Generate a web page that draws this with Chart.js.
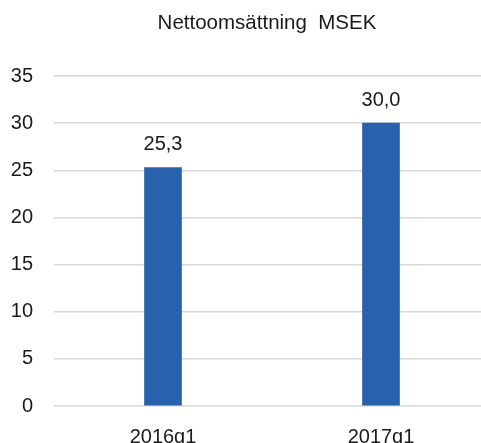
<!DOCTYPE html>
<html>
<head>
<meta charset="utf-8">
<script src="https://cdn.jsdelivr.net/npm/chart.js@4"></script>
<style>
  html, body { margin: 0; padding: 0; background: #fff; overflow: hidden; }
  #wrap { width: 490px; height: 452px; }
</style>
</head>
<body>
<div id="wrap"><canvas id="salesChart" width="490" height="452"></canvas></div>
<script>
// Chart data
const categories = ["2016q1", "2017q1"];
const netSales = [25.3, 30.0];
const yTicks = [0, 5, 10, 15, 20, 25, 30, 35];
const chartTitle = "Nettoomsättning  MSEK";

const fontFamily = "'Liberation Sans', Arial, Helvetica, sans-serif";
const textColor = "#1a1a1a";
const barColor = "#2862ad";

// Title centred over the plot, value labels above the bars
const labelPlugin = {
  id: "labels",
  afterDatasetsDraw(chart) {
    const ctx = chart.ctx;
    const area = chart.chartArea;
    ctx.save();
    ctx.fillStyle = textColor;
    ctx.font = "20.5px " + fontFamily;
    ctx.textAlign = "center";
    ctx.textBaseline = "middle";
    ctx.fillText(chartTitle, (area.left + area.right) / 2 - 5, 23);

    ctx.font = "20px " + fontFamily;
    ctx.textBaseline = "alphabetic";
    const meta = chart.getDatasetMeta(0);
    meta.data.forEach(function (bar, i) {
      const v = netSales[i].toFixed(1).replace(".", ",");
      ctx.fillText(v, bar.x, bar.y - 17);
    });
    ctx.restore();
  },
};

new Chart(document.getElementById("salesChart"), {
  type: "bar",
  data: {
    labels: categories,
    datasets: [
      {
        data: netSales,
        backgroundColor: barColor,
        barThickness: 37,
      },
    ],
  },
  options: {
    responsive: false,
    animation: false,
    layout: { padding: { left: 11, top: 76, right: 0, bottom: 0 } },
    plugins: {
      legend: { display: false },
      title: { display: false },
      tooltip: { enabled: false },
    },
    scales: {
      x: {
        afterFit: function (s) { s.height = 46; },
        grid: { display: false },
        border: { display: false },
        ticks: {
          color: textColor,
          padding: 11,
          font: { family: fontFamily, size: 20 },
        },
      },
      y: {
        min: 0,
        max: 35,
        afterFit: function (s) { s.width = 43; },
        afterBuildTicks: function (s) {
          s.ticks = yTicks.map(function (v) { return { value: v }; });
        },
        grid: { color: "#d9d9d9", lineWidth: 1.5, drawTicks: false },
        border: { display: false },
        ticks: {
          color: textColor,
          padding: 21,
          font: { family: fontFamily, size: 20 },
        },
      },
    },
  },
  plugins: [labelPlugin],
});
</script>
</body>
</html>
